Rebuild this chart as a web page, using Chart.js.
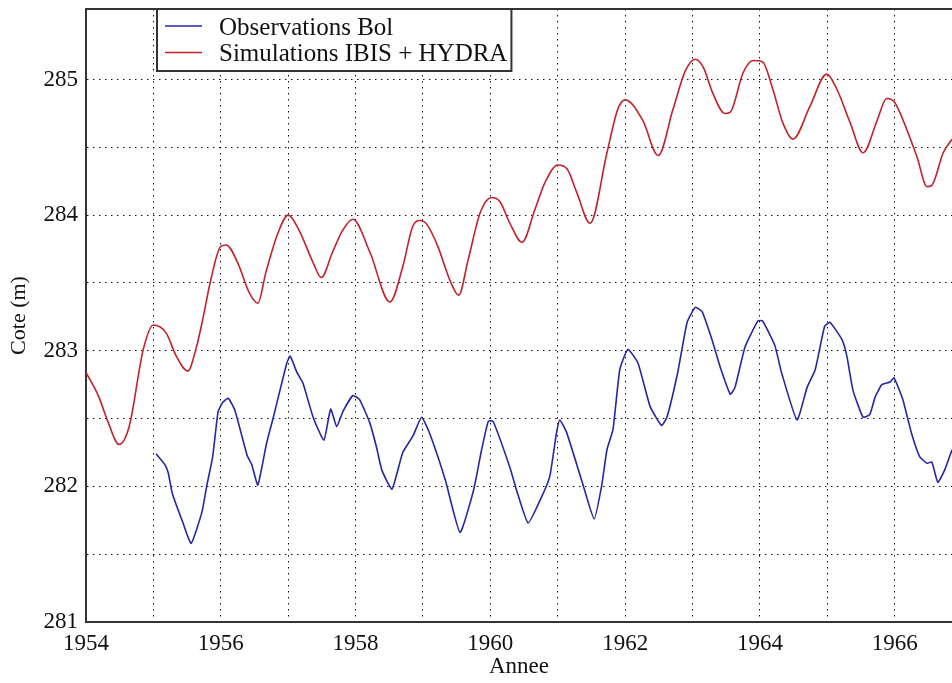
<!DOCTYPE html>
<html>
<head>
<meta charset="utf-8">
<script src="https://cdn.jsdelivr.net/npm/chart.js@4/dist/chart.umd.min.js"></script>
<style>
html,body{margin:0;padding:0;background:#fff;overflow:hidden;}
#wrap{width:952px;height:683px;}
</style>
</head>
<body>
<div id="wrap"><canvas id="c" width="952" height="683"></canvas></div>
<script>
// ---- data ----
const seriesLabels = ["Observations Bol", "Simulations IBIS + HYDRA"];
const xTickYears = [1954, 1956, 1958, 1960, 1962, 1964, 1966];
const yTickValues = [281, 282, 283, 284, 285];

const obsYears = [1955.04,1955.17,1955.22,1955.28,1955.44,1955.56,1955.72,1955.79,1955.88,1955.96,1956.03,1956.11,1956.21,1956.39,1956.46,1956.55,1956.68,1956.78,1956.98,1957.03,1957.13,1957.22,1957.37,1957.53,1957.63,1957.72,1957.81,1957.96,1958.06,1958.21,1958.31,1958.39,1958.54,1958.70,1958.85,1958.98,1959.10,1959.33,1959.55,1959.75,1959.87,1959.97,1960.04,1960.29,1960.39,1960.56,1960.74,1960.88,1960.98,1961.03,1961.13,1961.37,1961.54,1961.65,1961.73,1961.82,1961.92,1962.04,1962.19,1962.37,1962.54,1962.62,1962.78,1962.92,1963.04,1963.14,1963.29,1963.41,1963.56,1963.63,1963.78,1963.97,1964.04,1964.22,1964.32,1964.55,1964.70,1964.82,1964.96,1965.04,1965.22,1965.29,1965.38,1965.53,1965.63,1965.71,1965.81,1965.93,1965.99,1966.12,1966.25,1966.37,1966.48,1966.55,1966.64,1966.74,1966.85];
const obsValues = [282.24,282.16,282.10,281.95,281.73,281.58,281.81,282.00,282.22,282.55,282.62,282.65,282.56,282.23,282.16,282.01,282.32,282.51,282.91,282.96,282.84,282.76,282.51,282.34,282.57,282.44,282.55,282.67,282.64,282.47,282.29,282.12,281.98,282.25,282.37,282.51,282.39,282.05,281.66,281.97,282.27,282.48,282.48,282.14,281.97,281.73,281.90,282.07,282.39,282.49,282.40,282.02,281.76,282.00,282.27,282.42,282.86,283.01,282.91,282.59,282.45,282.51,282.84,283.21,283.32,283.29,283.08,282.88,282.68,282.73,283.03,283.22,283.22,283.04,282.84,282.49,282.73,282.86,283.18,283.21,283.08,282.96,282.71,282.51,282.53,282.66,282.75,282.77,282.80,282.64,282.39,282.22,282.17,282.18,282.03,282.12,282.27];

const simYears = [1954.00,1954.19,1954.33,1954.49,1954.64,1954.85,1955.00,1955.19,1955.34,1955.51,1955.63,1955.74,1955.85,1956.00,1956.08,1956.25,1956.42,1956.55,1956.67,1956.85,1957.00,1957.16,1957.37,1957.49,1957.66,1957.81,1957.96,1958.21,1958.51,1958.70,1958.85,1958.96,1959.06,1959.22,1959.40,1959.53,1959.67,1959.85,1960.02,1960.14,1960.29,1960.47,1960.66,1960.81,1961.00,1961.14,1961.28,1961.48,1961.73,1961.89,1962.00,1962.26,1962.49,1962.71,1962.89,1963.04,1963.16,1963.30,1963.48,1963.56,1963.75,1963.90,1964.04,1964.19,1964.34,1964.49,1964.74,1964.99,1965.14,1965.34,1965.53,1965.74,1965.88,1966.00,1966.18,1966.33,1966.48,1966.55,1966.72,1966.85];
const simValues = [282.84,282.66,282.47,282.31,282.44,283.01,283.19,283.13,282.96,282.85,283.01,283.25,283.52,283.77,283.78,283.65,283.43,283.35,283.58,283.87,284.00,283.89,283.65,283.54,283.73,283.89,283.97,283.73,283.36,283.62,283.92,283.96,283.93,283.77,283.52,283.41,283.67,284.02,284.13,284.10,283.94,283.80,284.04,284.24,284.37,284.34,284.17,283.94,284.46,284.78,284.85,284.70,284.44,284.78,285.06,285.15,285.09,284.90,284.75,284.76,285.05,285.14,285.13,284.93,284.68,284.56,284.80,285.04,284.93,284.68,284.46,284.70,284.86,284.83,284.63,284.43,284.21,284.22,284.46,284.56];

const X_MIN = 1954, X_MAX = 1966.85, Y_MIN = 281, Y_MAX = 285.52;
const FONT = "'Liberation Serif', 'Times New Roman', serif";
const BLUE = '#2626a6', RED = '#c4222a';

const framePlugin = {
  id: 'frame',
  afterDraw(chart) {
    const {ctx, chartArea: a} = chart;
    ctx.save();
    ctx.strokeStyle = '#333';
    ctx.lineWidth = 2;
    ctx.beginPath();
    ctx.moveTo(a.left - 1, a.top);
    ctx.lineTo(a.right + 2, a.top);
    ctx.stroke();
    ctx.restore();
  }
};

const boxLegend = {
  id: 'boxLegend',
  afterDraw(chart) {
    const {ctx, chartArea: a} = chart;
    const ds = chart.data.datasets;
    ctx.save();
    ctx.font = '25px ' + FONT;
    const left = a.left + 71, top = a.top, h = 62, rowH = 26.5;
    const lineX0 = left + 8, lineX1 = left + 45, textX = left + 62;
    let maxW = 0;
    ds.forEach(d => { maxW = Math.max(maxW, ctx.measureText(d.label).width); });
    const w = textX - left + maxW + 4;
    ctx.fillStyle = '#fff';
    ctx.fillRect(left, top, w, h);
    ctx.strokeStyle = '#333';
    ctx.lineWidth = 2;
    ctx.strokeRect(left, top, w, h);
    ds.forEach((d, i) => {
      const y = top + 17 + i * rowH;
      ctx.strokeStyle = d.borderColor;
      ctx.lineWidth = 1.5;
      ctx.beginPath();
      ctx.moveTo(lineX0, y);
      ctx.lineTo(lineX1, y);
      ctx.stroke();
      ctx.fillStyle = '#111';
      ctx.textBaseline = 'middle';
      ctx.fillText(d.label, textX, y + 2);
    });
    ctx.restore();
  }
};

new Chart(document.getElementById('c'), {
  type: 'line',
  data: {
    datasets: [
      {
        label: seriesLabels[0],
        data: obsYears.map((x, i) => ({x, y: obsValues[i]})),
        borderColor: BLUE, borderWidth: 1.6, pointRadius: 0, tension: 0.15, fill: false
      },
      {
        label: seriesLabels[1],
        data: simYears.map((x, i) => ({x, y: simValues[i]})),
        borderColor: RED, borderWidth: 1.6, pointRadius: 0, cubicInterpolationMode: 'monotone', fill: false
      }
    ]
  },
  options: {
    responsive: false,
    animation: false,
    devicePixelRatio: 1,
    layout: {padding: {top: 9, right: 0, left: 0, bottom: 0}},
    plugins: {legend: {display: false}, tooltip: {enabled: false}},
    scales: {
      x: {
        type: 'linear', min: X_MIN, max: X_MAX,
        afterBuildTicks: s => { s.ticks = s.ticks.filter(t => Number.isInteger(t.value)); },
        afterFit: s => { s.height = 61; s.paddingLeft = 0; s.paddingRight = 0; },
        ticks: {
          stepSize: 1, includeBounds: false, autoSkip: false, maxRotation: 0, padding: 8, color: '#111',
          font: {family: FONT, size: 23},
          callback: v => xTickYears.includes(v) ? String(v) : ''
        },
        grid: {color: '#111', lineWidth: 1, drawTicks: false},
        border: {display: true, color: '#333', width: 2, dash: [1.5, 4.5]},
        title: {display: true, text: 'Annee', color: '#111', font: {family: FONT, size: 23}, padding: {top: 0, bottom: 2}}
      },
      y: {
        min: Y_MIN, max: Y_MAX,
        afterBuildTicks: s => {
          const top = Math.max(...yTickValues);
          s.ticks = s.ticks.filter(t => Math.abs(t.value * 2 - Math.round(t.value * 2)) < 1e-6 && t.value <= top + 1e-6);
        },
        afterFit: s => { s.width = 86; s.paddingTop = 0; s.paddingBottom = 0; },
        ticks: {
          stepSize: 0.5, includeBounds: false, autoSkip: false, padding: 8, color: '#111',
          font: {family: FONT, size: 23},
          callback: v => yTickValues.includes(v) ? String(v) : ''
        },
        grid: {color: '#111', lineWidth: 1, drawTicks: false},
        border: {display: true, color: '#333', width: 2, dash: [1.5, 4.5]},
        title: {display: true, text: 'Cote (m)', color: '#111', font: {family: FONT, size: 22}, padding: {top: 6, bottom: 0}}
      }
    }
  },
  plugins: [framePlugin, boxLegend]
});
</script>
</body>
</html>
